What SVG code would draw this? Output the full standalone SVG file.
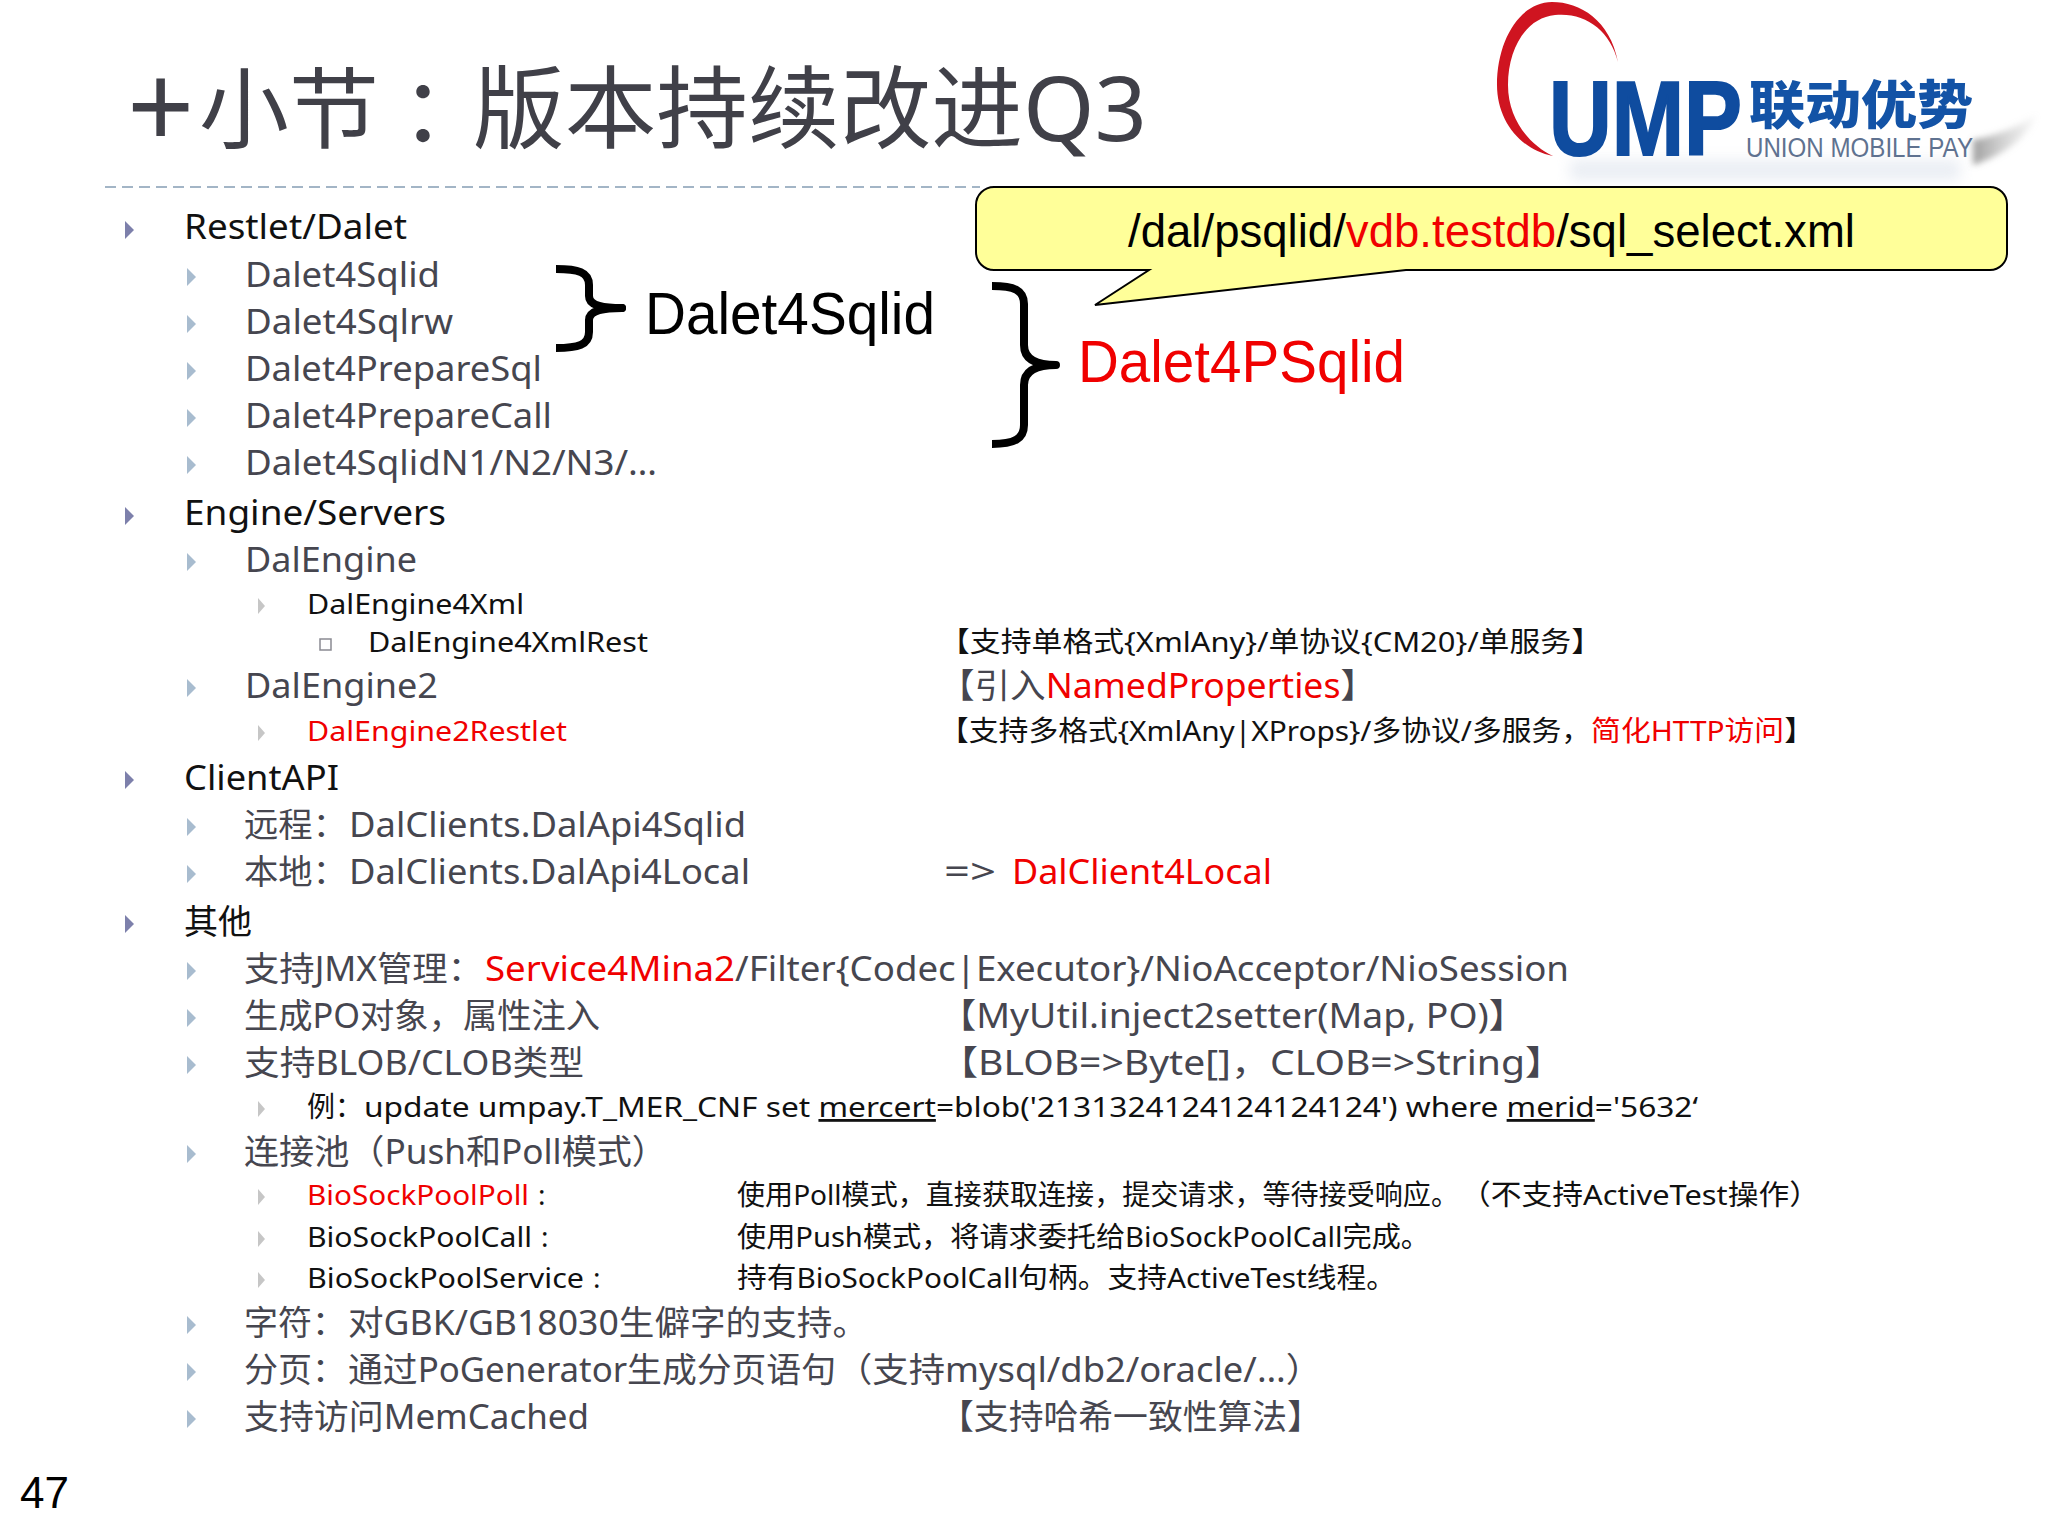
<svg xmlns="http://www.w3.org/2000/svg" width="2048" height="1536" viewBox="0 0 2048 1536">
<style>
text{font-family:"Noto Sans","Noto Sans CJK SC",sans-serif;white-space:pre}
.a{font-family:"Liberation Sans","Noto Sans CJK SC",sans-serif}
.l1{font-size:34px;fill:#111}
.l2{font-size:34px;fill:#46464f}
.l3{font-size:28px;fill:#111}
.r{fill:#f00000}
.b1{fill:#7d80ab}.b2{fill:#a8bccf}.b3{fill:#c6c6c6}
.brace{fill:none;stroke:#000;stroke-width:8;stroke-linecap:butt;stroke-linejoin:round}
</style>
<defs>
<path id="t" d="M0-9L9 0L0 9Z"/>
<path id="t3" d="M0-8L7 0L0 8Z"/>
<linearGradient id="sh" x1="0" x2="1" y1="0" y2="0"><stop offset="0" stop-color="#8f8f8f" stop-opacity=".85"/><stop offset="1" stop-color="#bbb" stop-opacity=".1"/></linearGradient>
<filter id="bl" x="-20%" y="-80%" width="140%" height="260%"><feGaussianBlur stdDeviation="7"/></filter>
<filter id="bs" x="-30%" y="-50%" width="160%" height="200%"><feGaussianBlur stdDeviation="3"/></filter>
</defs>
<rect width="2048" height="1536" fill="#fff"/>
<g id="logo">
<path d="M1973 140C2000 135 2020 125 2036 115C2030 135 2005 155 1973 165Z" fill="url(#sh)" filter="url(#bs)"/>
<rect x="1570" y="160" width="390" height="20" fill="#b9c6da" opacity=".3" filter="url(#bl)"/>
<path d="M1618 62C1610 20 1580 2 1552 2C1520 2 1497 40 1497 85C1497 120 1520 150 1553 156C1530 145 1508 120 1508 85C1508 50 1525 18 1555 15C1585 12 1610 30 1618 62Z" fill="#cf1420"/>
<text class="a" x="1549" y="155" font-size="105" font-weight="700" fill="#0f4c9f" stroke="#0f4c9f" stroke-width="2" textLength="193" lengthAdjust="spacingAndGlyphs">UMP</text>
<text x="1749" y="124" font-size="52" font-weight="900" fill="#1353a6" textLength="224" lengthAdjust="spacingAndGlyphs">联动优势</text>
<text class="a" x="1746" y="157" font-size="27" fill="#5f7290" textLength="227" lengthAdjust="spacingAndGlyphs">UNION MOBILE PAY</text>
</g>
<g id="title">
<text x="127" y="149" font-size="118" fill="#404048">+</text>
<text x="199" y="141" font-size="88" fill="#404048" textLength="180" lengthAdjust="spacingAndGlyphs">小节</text>
<text x="401" y="141" font-size="88" fill="#404048">：</text>
<text x="473" y="141" font-size="90" fill="#404048" textLength="674" lengthAdjust="spacingAndGlyphs">版本持续改进Q3</text>
<line x1="105" y1="187" x2="980" y2="187" stroke="#a3b5c6" stroke-width="2" stroke-dasharray="11 6"/>
</g>
<g id="callout">
<path d="M994 187H1990a17 17 0 0 1 17 17V253a17 17 0 0 1-17 17H1406L1095 305L1149 270H994a18 18 0 0 1-18-18V205a18 18 0 0 1 18-18Z" fill="#ffff99" stroke="#000" stroke-width="2"/>
<text class="a" x="1128" y="247" font-size="46" fill="#000" textLength="727" lengthAdjust="spacingAndGlyphs">/dal/psqlid/<tspan class="r">vdb.testdb</tspan>/sql_select.xml</text>
</g>
<g id="braces">
<path class="brace" d="M556 269C578 269 589 272 589 285V296C589 304 598 308 622 308C598 308 589 312 589 320V332C589 345 578 348 556 348"/>
<path class="brace" d="M992 286C1014 286 1024 290 1024 304V345C1024 358 1034 365 1056 365C1034 365 1024 372 1024 385V425C1024 439 1014 444 992 444"/>
<path d="M622 304a4 4 0 0 1 0 8Z" fill="#000"/>
<text class="a" x="645" y="334" font-size="60" fill="#000" textLength="290" lengthAdjust="spacingAndGlyphs">Dalet4Sqlid</text>
<text class="a r" x="1078" y="382" font-size="60" textLength="327" lengthAdjust="spacingAndGlyphs">Dalet4PSqlid</text>
</g>
<g id="bullets">
<use href="#t" x="125" y="230" class="b1"/>
<use href="#t" x="187" y="277" class="b2"/>
<use href="#t" x="187" y="324" class="b2"/>
<use href="#t" x="187" y="371" class="b2"/>
<use href="#t" x="187" y="418" class="b2"/>
<use href="#t" x="187" y="465" class="b2"/>
<use href="#t" x="125" y="516" class="b1"/>
<use href="#t" x="187" y="562" class="b2"/>
<use href="#t3" x="258" y="606" class="b3"/>
<rect x="320" y="639" width="11" height="11" fill="none" stroke="#8a8a92" stroke-width="1.500"/>
<use href="#t" x="187" y="688" class="b2"/>
<use href="#t3" x="258" y="733" class="b3"/>
<use href="#t" x="125" y="780" class="b1"/>
<use href="#t" x="187" y="827" class="b2"/>
<use href="#t" x="187" y="874" class="b2"/>
<use href="#t" x="125" y="924" class="b1"/>
<use href="#t" x="187" y="971" class="b2"/>
<use href="#t" x="187" y="1018" class="b2"/>
<use href="#t" x="187" y="1065" class="b2"/>
<use href="#t3" x="258" y="1109" class="b3"/>
<use href="#t" x="187" y="1154" class="b2"/>
<use href="#t3" x="258" y="1197" class="b3"/>
<use href="#t3" x="258" y="1239" class="b3"/>
<use href="#t3" x="258" y="1280" class="b3"/>
<use href="#t" x="187" y="1325" class="b2"/>
<use href="#t" x="187" y="1372" class="b2"/>
<use href="#t" x="187" y="1419" class="b2"/>
</g>
<g id="list">
<text class="l1" x="184" y="239" textLength="223" lengthAdjust="spacingAndGlyphs">Restlet/Dalet</text>
<text class="l2" x="245" y="287" textLength="195" lengthAdjust="spacingAndGlyphs">Dalet4Sqlid</text>
<text class="l2" x="245" y="334" textLength="208" lengthAdjust="spacingAndGlyphs">Dalet4Sqlrw</text>
<text class="l2" x="245" y="381" textLength="297" lengthAdjust="spacingAndGlyphs">Dalet4PrepareSql</text>
<text class="l2" x="245" y="428" textLength="307" lengthAdjust="spacingAndGlyphs">Dalet4PrepareCall</text>
<text class="l2" x="245" y="475" textLength="412" lengthAdjust="spacingAndGlyphs">Dalet4SqlidN1/N2/N3/…</text>
<text class="l1" x="184" y="525" textLength="262" lengthAdjust="spacingAndGlyphs">Engine/Servers</text>
<text class="l2" x="245" y="572" textLength="172" lengthAdjust="spacingAndGlyphs">DalEngine</text>
<text class="l3" x="307" y="614" textLength="217" lengthAdjust="spacingAndGlyphs">DalEngine4Xml</text>
<text class="l3" x="368" y="652" textLength="280" lengthAdjust="spacingAndGlyphs">DalEngine4XmlRest</text>
<text class="l2" x="245" y="698" textLength="193" lengthAdjust="spacingAndGlyphs">DalEngine2</text>
<text class="l3 r" x="307" y="741" textLength="260" lengthAdjust="spacingAndGlyphs">DalEngine2Restlet</text>
<text class="l1" x="184" y="790" textLength="155" lengthAdjust="spacingAndGlyphs">ClientAPI</text>
<text class="l2" x="244" y="837" textLength="103" lengthAdjust="spacingAndGlyphs">远程：</text>
<text class="l2" x="349" y="837" textLength="397" lengthAdjust="spacingAndGlyphs">DalClients.DalApi4Sqlid</text>
<text class="l2" x="244" y="884" textLength="103" lengthAdjust="spacingAndGlyphs">本地：</text>
<text class="l2" x="349" y="884" textLength="401" lengthAdjust="spacingAndGlyphs">DalClients.DalApi4Local</text>
<text class="l1" x="184" y="934" textLength="68" lengthAdjust="spacingAndGlyphs">其他</text>
<text class="l2" x="244" y="981" textLength="239" lengthAdjust="spacingAndGlyphs">支持JMX管理：</text>
<text class="l2" x="485" y="981" textLength="1084" lengthAdjust="spacingAndGlyphs"><tspan class="r">Service4Mina2</tspan>/Filter{Codec|Executor}/NioAcceptor/NioSession</text>
<text class="l2" x="244" y="1028" textLength="356" lengthAdjust="spacingAndGlyphs">生成PO对象，属性注入</text>
<text class="l2" x="244" y="1075" textLength="340" lengthAdjust="spacingAndGlyphs">支持BLOB/CLOB类型</text>
<text class="l3" x="307" y="1117">例：</text>
<text class="l3" x="364" y="1117" textLength="1334" lengthAdjust="spacingAndGlyphs">update umpay.T_MER_CNF set <tspan text-decoration="underline">mercert</tspan>=blob('2131324124124124124') where <tspan text-decoration="underline">merid</tspan>='5632‘</text>
<text class="l2" x="244" y="1164" textLength="423" lengthAdjust="spacingAndGlyphs">连接池（Push和Poll模式）</text>
<text class="l3 r" x="307" y="1205" textLength="222" lengthAdjust="spacingAndGlyphs">BioSockPoolPoll</text>
<text class="l3" x="538" y="1205">:</text>
<text class="l3" x="307" y="1247" textLength="225" lengthAdjust="spacingAndGlyphs">BioSockPoolCall</text>
<text class="l3" x="541" y="1247">:</text>
<text class="l3" x="307" y="1288" textLength="277" lengthAdjust="spacingAndGlyphs">BioSockPoolService</text>
<text class="l3" x="593" y="1288">:</text>
<text class="l2" x="244" y="1335" textLength="102" lengthAdjust="spacingAndGlyphs">字符：</text>
<text class="l2" x="348" y="1335" textLength="520" lengthAdjust="spacingAndGlyphs">对GBK/GB18030生僻字的支持。</text>
<text class="l2" x="244" y="1382" textLength="102" lengthAdjust="spacingAndGlyphs">分页：</text>
<text class="l2" x="348" y="1382" textLength="488" lengthAdjust="spacingAndGlyphs">通过PoGenerator生成分页语句</text>
<text class="l2" x="836" y="1382" textLength="486" lengthAdjust="spacingAndGlyphs">（支持mysql/db2/oracle/…）</text>
<text class="l2" x="244" y="1429" textLength="345" lengthAdjust="spacingAndGlyphs">支持访问MemCached</text>
</g>
<g id="notes">
<text class="l3" x="939" y="652" textLength="663" lengthAdjust="spacingAndGlyphs">【支持单格式{XmlAny}/单协议{CM20}/单服务】</text>
<text class="l2" x="939" y="698" textLength="437" lengthAdjust="spacingAndGlyphs">【引入<tspan class="r">NamedProperties</tspan>】</text>
<text class="l3" x="939" y="741" textLength="875" lengthAdjust="spacingAndGlyphs">【支持多格式{XmlAny|XProps}/多协议/多服务，<tspan class="r">简化HTTP访问</tspan>】</text>
<text class="l2" x="944" y="884" textLength="52" lengthAdjust="spacingAndGlyphs">=&gt;</text>
<text class="l2 r" x="1012" y="884" textLength="260" lengthAdjust="spacingAndGlyphs">DalClient4Local</text>
<text class="l2" x="939" y="1028" textLength="587" lengthAdjust="spacingAndGlyphs">【MyUtil.inject2setter(Map, PO)】</text>
<text class="l2" x="939" y="1075" textLength="625" lengthAdjust="spacingAndGlyphs">【BLOB=&gt;Byte[]，CLOB=&gt;String】</text>
<text class="l3" x="737" y="1205" textLength="722" lengthAdjust="spacingAndGlyphs">使用Poll模式，直接获取连接，提交请求，等待接受响应。</text>
<text class="l3" x="1460" y="1205" textLength="360" lengthAdjust="spacingAndGlyphs">（不支持ActiveTest操作）</text>
<text class="l3" x="737" y="1247" textLength="693" lengthAdjust="spacingAndGlyphs">使用Push模式，将请求委托给BioSockPoolCall完成。</text>
<text class="l3" x="737" y="1288" textLength="659" lengthAdjust="spacingAndGlyphs">持有BioSockPoolCall句柄。支持ActiveTest线程。</text>
<text class="l2" x="939" y="1429" textLength="383" lengthAdjust="spacingAndGlyphs">【支持哈希一致性算法】</text>
</g>
<text id="page" class="a" x="20" y="1508" font-size="44" fill="#000">47</text>
</svg>
